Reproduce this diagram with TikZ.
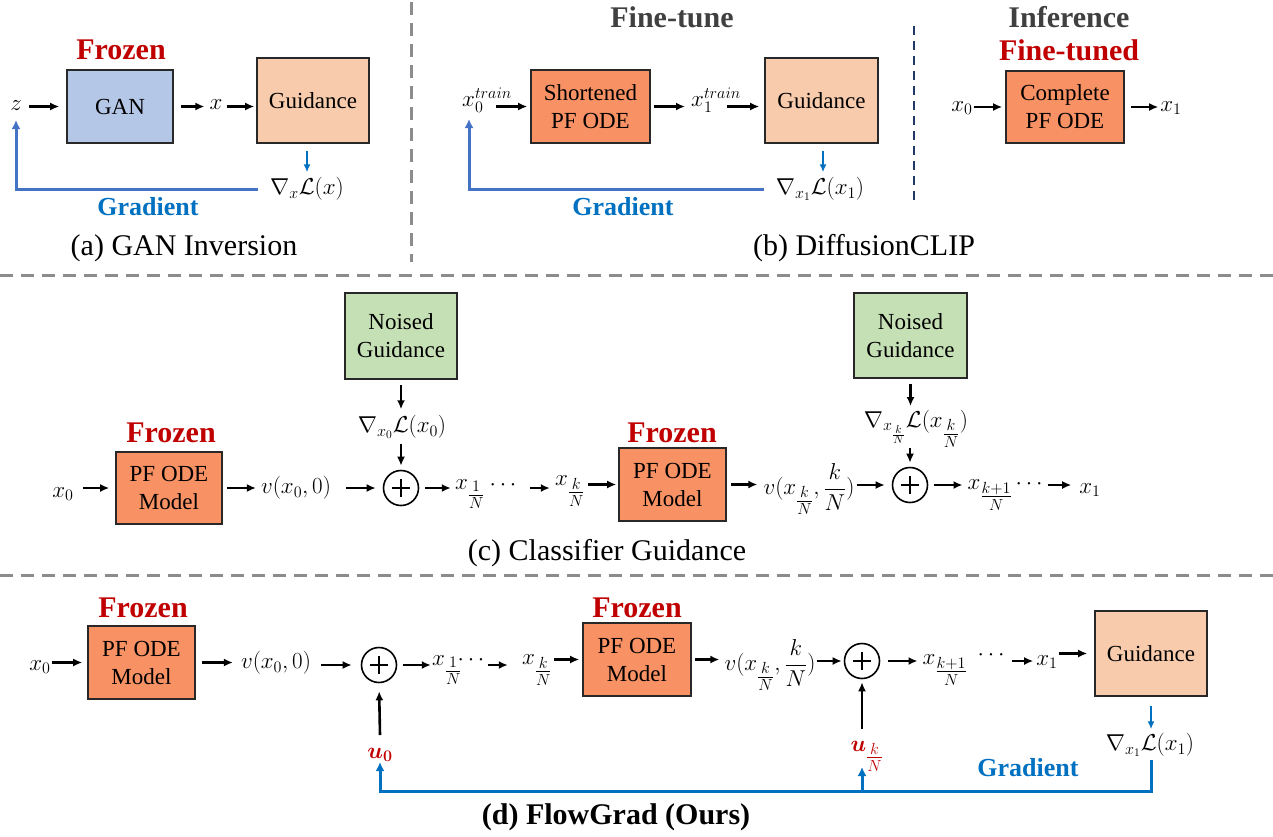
\documentclass[tikz,border=0pt]{standalone}
\usepackage{fix-cm}
\usepackage{bm}
\usepackage{fontspec}
\setmainfont{Liberation Serif}
\usetikzlibrary{arrows.meta,calc}
\definecolor{redF}{RGB}{192,0,0}
\definecolor{grayT}{RGB}{64,64,64}
\definecolor{blueG}{RGB}{0,112,192}
\definecolor{blueL}{RGB}{68,114,196}
\definecolor{ganfill}{RGB}{180,199,231}
\definecolor{guidfill}{RGB}{248,203,173}
\definecolor{odefill}{RGB}{248,145,100}
\definecolor{noisefill}{RGB}{197,224,180}
\definecolor{sepgray}{RGB}{140,140,140}
\definecolor{navyD}{RGB}{32,56,100}
\definecolor{boxline}{RGB}{40,40,40}
\newcommand\fsz[2]{\fontsize{#1}{#2}\selectfont}
\newcommand\sfr[2]{{\textstyle\frac{#1}{#2}}}
\begin{document}
\begin{tikzpicture}[x=1pt,y=-1pt,
  box/.style={draw=boxline,line width=1.6pt,inner sep=0pt,align=center,font=\fsz{23}{28}},
  arr/.style={-{Latex[length=9pt,width=8pt]},line width=2.6pt},
  garr/.style={-{Latex[length=8pt,width=7pt]},line width=2pt,draw=blueG},
  fb/.style={line width=3pt,draw=blueL},
  fbd/.style={line width=3pt,draw=blueG},
  lbl/.style={inner sep=0pt,font=\fsz{23}{26}},
  frozen/.style={text=redF,font=\bfseries\fsz{30}{32}},
  ttl/.style={text=grayT,font=\bfseries\fsz{30}{32}},
  grad/.style={text=blueG,font=\bfseries\fsz{26}{28}},
  captxt/.style={font=\fsz{30}{34}},
  plus/.style={circle,draw,line width=1.6pt,minimum size=35pt,inner sep=0pt,
    path picture={\draw[line width=2.6pt]
      ($(path picture bounding box.center)+(-9,0)$) -- ($(path picture bounding box.center)+(9,0)$)
      ($(path picture bounding box.center)+(0,-9)$) -- ($(path picture bounding box.center)+(0,9)$);}},
  sep/.style={draw=sepgray,line width=3pt,dash pattern=on 13pt off 8pt}]
\useasboundingbox (0,0) rectangle (1273,836);

% separators
\draw[sep] (411,2) -- (411,262);
\draw[sep] (0,275) -- (1273,275);
\draw[sep] (0,575) -- (1273,575);
\draw[draw=navyD,line width=2.5pt,dash pattern=on 9pt off 6pt] (914,26) -- (914,205);

% ---------------- (a)
\node[frozen] (fa) at (121,50) {Frozen};
\node[box,fill=ganfill,minimum width=106pt,minimum height=73pt] (gan) at (120,106.5) {GAN};
\node[box,fill=guidfill,minimum width=112pt,minimum height=85pt] (ga) at (313,100.5) {Guidance};
\node[lbl] (z) at (16,106) {$z$};
\node[lbl] (xa) at (216,105) {$x$};
\node[lbl] (gla) at (307,189) {$\nabla_{x}\mathcal{L}(x)$};
\coordinate (zin) at (16,120);
\draw[arr,shorten <=7pt,shorten >=7pt] (gan.west -| z.east) -- (gan.west);
\draw[arr,shorten <=7pt,shorten >=5pt] (gan.east) -- (gan.east -| xa.west);
\draw[arr,shorten <=4pt,shorten >=2pt] (gan.east -| xa.east) -- (gan.east -| ga.west);
\draw[garr,shorten <=7pt,shorten >=5pt] (ga.south -| 307,0) -- (gla.north -| 307,0);
\draw[fb,-{Latex[length=9pt,width=9pt]},shorten <=12pt] (gla.west) -| (zin);
\node[grad] (gra) at (148,207) {Gradient};
\node[captxt] (capa) at (184,248) {(a) GAN Inversion};

% ---------------- (b)
\node[ttl] (ft) at (672,17) {Fine-tune};
\node[lbl] (x0t) at (487,100) {$x_0^{train}$};
\node[box,fill=odefill,minimum width=119pt,minimum height=73pt] (sh) at (590.5,106.5) {Shortened\\PF ODE};
\node[lbl] (x1t) at (716,100) {$x_1^{train}$};
\node[box,fill=guidfill,minimum width=113pt,minimum height=85pt] (gb) at (821.5,100.5) {Guidance};
\node[lbl] (glb) at (820,189) {$\nabla_{x_1}\mathcal{L}(x_1)$};
\coordinate (x0in) at (469,119);
\draw[arr,shorten <=-16pt,shorten >=3pt] (sh.west -| x0t.east) -- (sh.west);
\draw[arr,shorten <=3pt,shorten >=6pt] (sh.east) -- (sh.east -| x1t.west);
\draw[arr,shorten <=-14pt,shorten >=5pt] (sh.east -| x1t.east) -- (sh.east -| gb.west);
\draw[garr,shorten <=7pt,shorten >=5pt] (gb.south -| 823,0) -- (glb.north -| 823,0);
\draw[fb,-{Latex[length=9pt,width=9pt]},shorten <=12pt] (glb.west) -| (x0in);
\node[grad] (grb) at (623,207) {Gradient};
\node[captxt] (capb) at (864,248) {(b) DiffusionCLIP};

\node[ttl] (inf) at (1069,17) {Inference};
\node[frozen] (ftd) at (1069,50) {Fine-tuned};
\node[lbl] (x0c) at (962,108) {$x_0$};
\node[box,fill=odefill,minimum width=118pt,minimum height=72pt] (cp) at (1065,107) {Complete\\PF ODE};
\node[lbl] (x1c) at (1171,108) {$x_1$};
\draw[arr,shorten <=1pt,shorten >=3pt] (cp.west -| x0c.east) -- (cp.west);
\draw[arr,shorten <=6pt,shorten >=2pt] (cp.east) -- (cp.east -| x1c.west);

% ---------------- (c)
\node[frozen] (fc1) at (171,433) {Frozen};
\node[box,fill=odefill,minimum width=106pt,minimum height=72pt] (p1) at (169,488) {PF ODE\\Model};
\node[lbl] (cx0) at (63,494) {$x_0$};
\node[lbl] (v1) at (296,488) {$v(x_0,0)$};
\node[plus] (pl1) at (401,488) {};
\node[box,fill=noisefill,minimum width=112pt,minimum height=86pt] (ng1) at (401,336) {Noised\\Guidance};
\node[lbl] (gl1) at (402,427) {$\nabla_{x_0}\mathcal{L}(x_0)$};
\node[lbl] (xn1) at (470,494) {$x_{\sfr{1}{N}}$};
\node[lbl] (dc1) at (503,485) {$\cdots$};
\node[lbl] (xk1) at (570,491) {$x_{\sfr{k}{N}}$};
\node[frozen] (fc2) at (672,433) {Frozen};
\node[box,fill=odefill,minimum width=107pt,minimum height=73pt] (p2) at (672.5,484.5) {PF ODE\\Model};
\node[lbl] (v2) at (809,489) {$v(x_{\sfr{k}{N}},\displaystyle\frac{k}{N})$};
\node[plus] (pl2) at (910,485) {};
\node[box,fill=noisefill,minimum width=113pt,minimum height=85pt] (ng2) at (910.5,335.5) {Noised\\Guidance};
\node[lbl] (gl2) at (916,429) {$\nabla_{x_{\frac{k}{N}}}\mathcal{L}(x_{\sfr{k}{N}})$};
\node[lbl] (xk2) at (990,495) {$x_{\sfr{k+1}{N}}$};
\node[lbl] (dc2) at (1029,484) {$\cdots$};
\node[lbl] (x1c3) at (1090,490) {$x_1$};
\draw[arr,shorten <=9pt,shorten >=6pt] (p1.west -| cx0.east) -- (p1.west);
\draw[arr,shorten <=4pt,shorten >=5pt] (p1.east) -- (p1.east -| v1.west);
\draw[arr,shorten <=15pt,shorten >=7pt] (pl1.west -| v1.east) -- (pl1.west);
\draw[arr,shorten <=5pt,shorten >=6pt] (ng1.south) -- (gl1.north -| ng1.south);
\draw[arr,shorten <=5pt,shorten >=4pt] (gl1.south -| pl1.north) -- (pl1.north);
\draw[arr,shorten <=6pt,shorten >=4pt] (pl1.east) -- (pl1.east -| xn1.west);
\draw[arr,shorten <=13pt,shorten >=5pt] (pl1.east -| dc1.east) -- (pl1.east -| xk1.west);
\draw[arr,shorten <=3pt,shorten >=2pt] (p2.west -| xk1.east) -- (p2.west);
\draw[arr,shorten <=4pt,shorten >=6pt] (p2.east) -- (p2.east -| v2.west);
\draw[arr,shorten <=2pt,shorten >=7pt] (pl2.west -| v2.east) -- (pl2.west);
\draw[arr,shorten <=5pt,shorten >=4pt] (ng2.south) -- (ng2.south |- gl2.north);
\draw[arr,shorten <=0pt,shorten >=4pt] (gl2.south -| pl2.north) -- (pl2.north);
\draw[arr,shorten <=6pt,shorten >=5pt] (pl2.east) -- (pl2.east -| xk2.west);
\draw[arr,shorten <=5pt,shorten >=8pt] (pl2.east -| dc2.east) -- (pl2.east -| x1c3.west);
\node[captxt] (capc) at (607,553) {(c) Classifier Guidance};

% ---------------- (d)
\node[frozen] (fd1) at (143,608) {Frozen};
\node[box,fill=odefill,minimum width=107pt,minimum height=73pt] (q1) at (141.5,662.5) {PF ODE\\Model};
\node[lbl] (dx0) at (40,667) {$x_0$};
\node[lbl] (vd1) at (276,663) {$v(x_0,0)$};
\node[plus] (pd1) at (379,665) {};
\node[lbl] (xnd1) at (447,670) {$x_{\sfr{1}{N}}$};
\node[lbl] (dd1) at (471,660) {$\cdots$};
\node[lbl] (xkd1) at (537,670) {$x_{\sfr{k}{N}}$};
\node[frozen] (fd2) at (637,608) {Frozen};
\node[box,fill=odefill,minimum width=108pt,minimum height=73pt] (q2) at (637,659.5) {PF ODE\\Model};
\node[lbl] (vd2) at (770,665) {$v(x_{\sfr{k}{N}},\displaystyle\frac{k}{N})$};
\node[plus] (pd2) at (862,661) {};
\node[lbl] (xk1d) at (945,670) {$x_{\sfr{k+1}{N}}$};
\node[lbl] (dd2) at (991,655) {$\cdots$};
\node[lbl] (x1d) at (1047,662) {$x_1$};
\node[box,fill=guidfill,minimum width=112pt,minimum height=85pt] (gd) at (1151,653.5) {Guidance};
\node[lbl] (gld) at (1150,745) {$\nabla_{x_1}\mathcal{L}(x_1)$};
\node[lbl,text=redF] (u0) at (380,755) {$\bm{u}_{\bm{0}}$};
\node[lbl,text=redF] (uk) at (867,756) {$\bm{u}_{\sfr{k}{N}}$};
\coordinate (u0top) at (380,735);
\coordinate (uktop) at (862,729);
\draw[arr,shorten <=1pt,shorten >=5pt] (q1.west -| dx0.east) -- (q1.west);
\draw[arr,shorten <=6pt,shorten >=8pt] (q1.east) -- (q1.east -| vd1.west);
\draw[arr,shorten <=10pt,shorten >=9pt] (pd1.west -| vd1.east) -- (pd1.west);
\draw[arr,shorten <=6pt,shorten >=1pt] (pd1.east) -- (pd1.east -| xnd1.west);
\draw[arr,shorten <=3pt,shorten >=14pt] (pd1.east -| dd1.east) -- (pd1.east -| xkd1.west);
\draw[arr,shorten <=2pt,shorten >=3pt] (q2.west -| xkd1.east) -- (q2.west);
\draw[arr,shorten <=3pt,shorten >=5pt] (q2.east) -- (q2.east -| vd2.west);
\draw[arr,shorten <=1pt,shorten >=2pt] (pd2.west -| vd2.east) -- (pd2.west);
\draw[arr,shorten <=8pt,shorten >=5pt] (pd2.east) -- (pd2.east -| xk1d.west);
\draw[arr,shorten <=7pt,shorten >=3pt] (pd2.east -| dd2.east) -- (pd2.east -| x1d.west);
\draw[arr,shorten <=1pt,shorten >=7pt] (x1d.east |- gd.west) -- (gd.west);
\draw[arr,shorten >=8pt] (u0top) -- (pd1.south);
\draw[arr,shorten >=3pt] (uktop) -- (pd2.south);
\draw[garr,shorten <=9pt,shorten >=4pt] (gd.south -| 1151,0) -- (gld.north -| 1151,0);
\coordinate (fbR) at (1151,791);
\coordinate (fbL) at (380,791);
\coordinate (ukfoot) at (862,791);
\coordinate (ukin) at (862,767);
\draw[fbd,-{Latex[length=9pt,width=9pt]},shorten <=3pt] (gld.south -| fbR) -- (fbR) -- (fbL) -- (u0.south);
\draw[fbd,-{Latex[length=9pt,width=9pt]}] (ukfoot) -- (ukin);
\node[grad] (grd) at (1028,768) {Gradient};
\node[captxt,font=\bfseries\fsz{30}{34}] (capd) at (616,817) {(d) FlowGrad (Ours)};
\end{tikzpicture}
\end{document}
